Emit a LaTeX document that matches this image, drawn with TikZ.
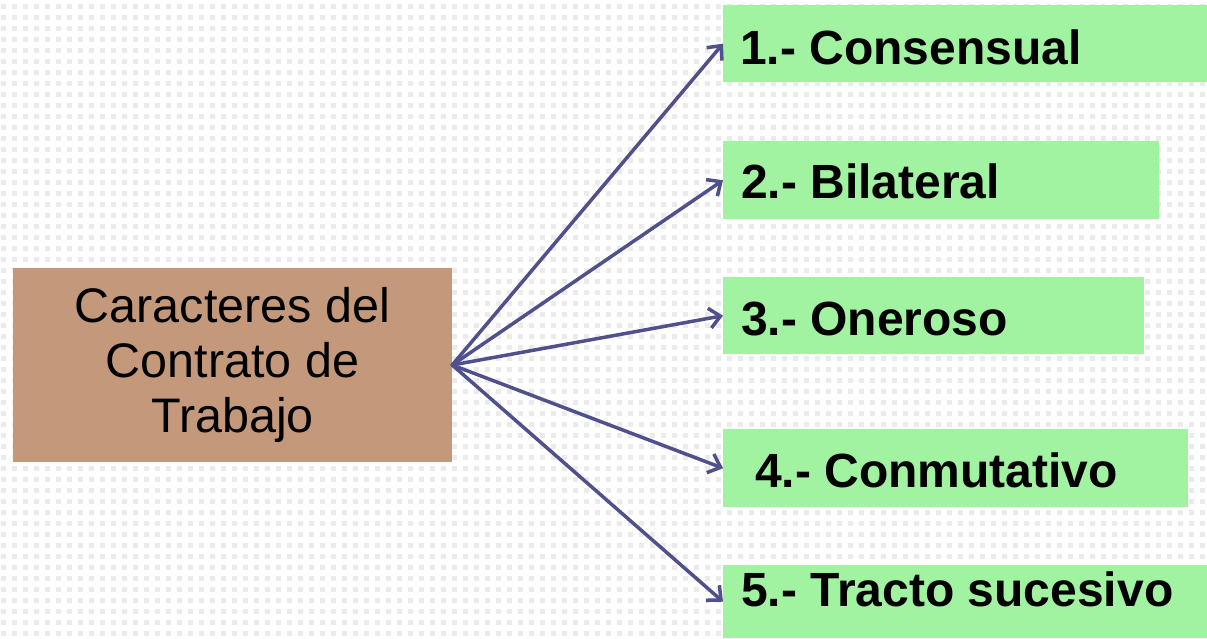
\documentclass[tikz,border=0pt]{standalone}
\usepackage{fontspec}
\setmainfont{Liberation Sans}
\usetikzlibrary{arrows.meta}
\definecolor{srcbrown}{HTML}{C4997B}
\definecolor{boxgreen}{HTML}{A1F2A1}
\definecolor{arrowblue}{HTML}{50508C}
\definecolor{dotgray}{HTML}{EBEBEB}
\tikzset{
  srcbox/.style={draw=none, fill=srcbrown, minimum width=439pt, minimum height=194pt, inner sep=0pt, align=center, font=\fontsize{48.5}{55}\selectfont},
  greenbox/.style={draw=none, fill=boxgreen, anchor=north west, inner sep=0pt},
  itemlabel/.style={anchor=base west, inner sep=0pt, font=\fontsize{48}{54}\selectfont\bfseries},
  conn/.style={draw=arrowblue, line width=3.5pt, line cap=round, -{Straight Barb[length=11pt,width=20pt,line width=3.5pt]}}
}
\begin{document}
\begin{tikzpicture}[x=1pt,y=-1pt]
\useasboundingbox (0,0) rectangle (1207,638);
% dotted background
\foreach \j in {0,...,57} {
  \draw[dotgray, line width=5pt, dash pattern=on 5pt off 6pt] (1,{6.5+11*\j}) -- (1207,{6.5+11*\j});
}
% source
\node[srcbox] (src) at (232.5,365) {Caracteres del\\Contrato de\\Trabajo};
% green boxes
\node[greenbox, minimum width=484pt, minimum height=77pt] (c1) at (723,5) {};
\node[greenbox, minimum width=436pt, minimum height=78pt] (c2) at (723,141) {};
\node[greenbox, minimum width=421pt, minimum height=77pt] (c3) at (723,277) {};
\node[greenbox, minimum width=465pt, minimum height=78pt] (c4) at (723,429) {};
\node[greenbox, minimum width=484pt, minimum height=73pt] (c5) at (723,565) {};
% labels
\node[itemlabel] (t1) at (740,64) {1.- Consensual};
\node[itemlabel] (t2) at (741,198) {2.- Bilateral};
\node[itemlabel] (t3) at (741,335) {3.- Oneroso};
\node[itemlabel] (t4) at (755,487) {4.- Conmutativo};
\node[itemlabel] (t5) at (741,606) {5.- Tracto sucesivo};
% connectors
\foreach \k in {1,...,5} {
  \draw[conn] (src.east) -- (c\k.west);
}
\end{tikzpicture}
\end{document}
